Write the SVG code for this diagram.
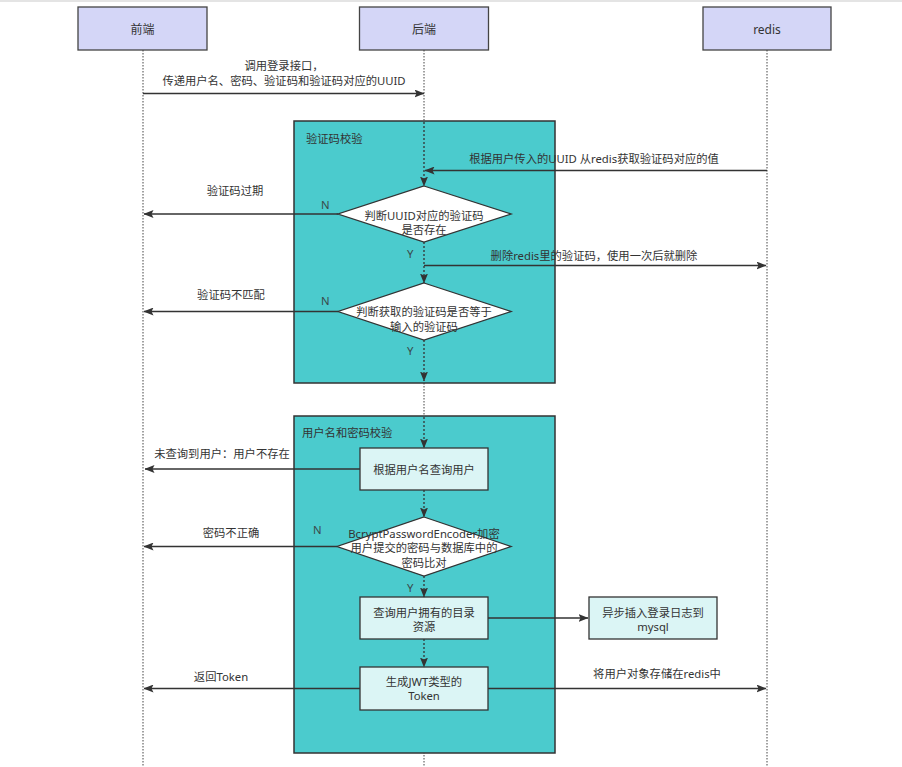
<svg xmlns="http://www.w3.org/2000/svg" width="902" height="767" viewBox="0 0 902 767">
<style>
text{font-family:"Noto Sans","Noto Sans CJK SC",sans-serif;font-size:11.3px;fill:#333;dominant-baseline:central}
.c{text-anchor:middle}
.hdr{fill:#d4d6f7;stroke:#444;stroke-width:1.3}
.grp{fill:#4bcbcd;stroke:#333;stroke-width:1.5}
.box{fill:#dbf5f5;stroke:#333;stroke-width:1.3}
.dia{fill:#ffffff;stroke:#333;stroke-width:1.3}
.life{stroke:#444;stroke-width:1;stroke-dasharray:1.5 1.5;fill:none}
.msg{stroke:#333;stroke-width:1.3;fill:none;marker-end:url(#ah)}
.dash{stroke:#333;stroke-width:1.3;stroke-dasharray:2 2;fill:none;marker-end:url(#ah)}
.yn{fill:#3a4a4a}
</style>
<defs>
<marker id="ah" markerWidth="10" markerHeight="8" refX="9.5" refY="4" orient="auto" markerUnits="userSpaceOnUse">
<path d="M0,0 L10,4 L0,8 L2,4 z" fill="#333"/>
</marker>
</defs>
<rect x="0" y="0" width="902" height="767" fill="#ffffff"/>
<rect x="0" y="0" width="902" height="2" fill="#e4e4e4"/>

<g id="lifelines">
<line class="life" x1="143" y1="50" x2="143" y2="767"/>
<line class="life" x1="424" y1="50" x2="424" y2="767"/>
<line class="life" x1="767" y1="50" x2="767" y2="767"/>
</g>

<g id="hdr-frontend"><rect class="hdr" x="78" y="7" width="129" height="43"/><text class="c" x="142.5" y="29" style="font-size:12px">前端</text></g>
<g id="hdr-backend"><rect class="hdr" x="359.5" y="7" width="129" height="43"/><text class="c" x="424" y="29" style="font-size:12px">后端</text></g>
<g id="hdr-redis"><rect class="hdr" x="703" y="7" width="128" height="43"/><text class="c" x="767" y="29" style="font-size:12px">redis</text></g>

<g id="grp-captcha"><rect class="grp" x="294" y="121" width="261" height="262"/><text x="306" y="138">验证码校验</text></g>
<g id="grp-user"><rect class="grp" x="294" y="416" width="261" height="337"/><text x="302" y="432">用户名和密码校验</text></g>

<g id="d1"><polygon class="dia" points="424,186 511,214 424,242 338,214"/><text class="c" x="424" y="215">判断UUID对应的验证码</text><text class="c" x="424" y="229">是否存在</text></g>
<g id="d2"><polygon class="dia" points="424,283 511,311.5 424,340 338,311.5"/><text class="c" x="424" y="311">判断获取的验证码是否等于</text><text class="c" x="424" y="326">输入的验证码</text></g>
<g id="r1"><rect class="box" x="360" y="448" width="128" height="42"/><text class="c" x="424" y="469">根据用户名查询用户</text></g>
<g id="d3"><polygon class="dia" points="424,517 511,546.5 424,576 337,546.5"/><text class="c" x="424" y="533">BcryptPasswordEncoder加密</text><text class="c" x="424" y="547">用户提交的密码与数据库中的</text><text class="c" x="424" y="562">密码比对</text></g>
<g id="r2"><rect class="box" x="360" y="597" width="128" height="42"/><text class="c" x="424" y="612">查询用户拥有的目录</text><text class="c" x="424" y="626">资源</text></g>
<g id="r3"><rect class="box" x="589" y="597" width="128" height="42"/><text class="c" x="653" y="612">异步插入登录日志到</text><text class="c" x="653" y="626">mysql</text></g>
<g id="r4"><rect class="box" x="360" y="667" width="128" height="43"/><text class="c" x="424" y="681">生成JWT类型的</text><text class="c" x="424" y="695">Token</text></g>

<g id="connectors">
<line class="msg" x1="143" y1="93.5" x2="424" y2="93.5"/>
<text class="c" x="284" y="65">调用登录接口，</text>
<text class="c" x="284" y="80">传递用户名、密码、验证码和验证码对应的UUID</text>

<line class="msg" x1="767" y1="170.5" x2="425" y2="170.5"/>
<text class="c" x="594" y="158">根据用户传入的UUID 从redis获取验证码对应的值</text>

<line class="dash" x1="424" y1="122" x2="424" y2="186"/>

<line class="msg" x1="338" y1="214" x2="144" y2="214"/>
<text class="yn" x="321" y="204">N</text>
<text class="c" x="235" y="190">验证码过期</text>

<text class="yn" x="407" y="253">Y</text>
<line class="dash" x1="424" y1="242" x2="424" y2="283"/>
<line class="msg" x1="424" y1="265.5" x2="766" y2="265.5"/>
<text class="c" x="594" y="255">删除redis里的验证码，使用一次后就删除</text>

<line class="msg" x1="338" y1="311.5" x2="144" y2="311.5"/>
<text class="yn" x="321" y="300">N</text>
<text class="c" x="231" y="294">验证码不匹配</text>

<text class="yn" x="407" y="350">Y</text>
<line class="dash" x1="424" y1="340" x2="424" y2="381"/>

<line class="dash" x1="424" y1="417" x2="424" y2="448"/>
<line class="msg" x1="360" y1="469" x2="145" y2="469"/>
<text class="c" x="222" y="453">未查询到用户：用户不存在</text>

<line class="dash" x1="424" y1="490" x2="424" y2="517"/>
<line class="msg" x1="337" y1="546.5" x2="144" y2="546.5"/>
<text class="yn" x="313" y="529">N</text>
<text class="c" x="231" y="532">密码不正确</text>

<text class="yn" x="407" y="587">Y</text>
<line class="dash" x1="424" y1="576" x2="424" y2="597"/>
<line class="msg" x1="488" y1="618" x2="588" y2="618"/>

<line class="dash" x1="424" y1="639" x2="424" y2="667"/>
<line class="msg" x1="360" y1="688.5" x2="144" y2="688.5"/>
<text class="c" x="221" y="676">返回Token</text>
<line class="msg" x1="488" y1="688.5" x2="766" y2="688.5"/>
<text class="c" x="657" y="673">将用户对象存储在redis中</text>
</g>
</svg>
